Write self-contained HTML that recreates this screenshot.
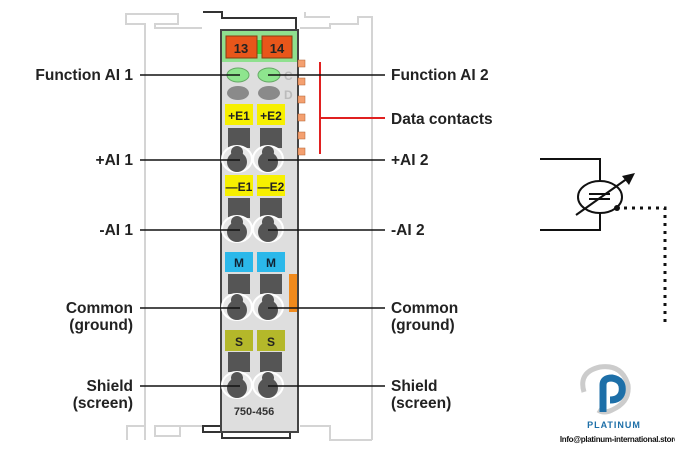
<!DOCTYPE html>
<html><head><meta charset="utf-8"><style>
html,body{margin:0;padding:0;background:#fff;}
svg{display:block;}
text{font-family:"Liberation Sans",sans-serif;font-weight:bold;}
</style></head><body>
<svg width="675" height="450" viewBox="0 0 675 450" xmlns="http://www.w3.org/2000/svg">
<defs>
<g id="term">
  <ellipse cx="0" cy="1" rx="15" ry="13" fill="#e8e8e8" stroke="#fff" stroke-width="2"/>
  <circle cx="0" cy="-6" r="6" fill="#555"/>
  <circle cx="0" cy="4" r="10" fill="#555"/>
</g>
</defs>
<!-- ghost rails -->
<g fill="none" stroke="#d4d4d4" stroke-width="2">
  <path d="M145 440 V24 H126 V14 H178 V24 H155 V28 H202"/>
  <path d="M127 440 V426 H145 M155 426 H180 V436 H155 Z M180 426 H205"/>
  <path d="M372 440 V17 H358 V24 H330 V28 H300 M330 17 H305 V12"/>
  <path d="M300 426 H330 V440 H372"/>
</g>
<!-- module -->
<path d="M203 12 H222 V18 H296 V30 H298 V432 H290 V438 H222 V432 H203 V426 H222" fill="none" stroke="#333" stroke-width="2"/>
<rect x="221" y="30" width="77" height="402" fill="#dedede" stroke="#444" stroke-width="2"/>
<rect x="222" y="31" width="75" height="31" fill="#8fe08f"/>
<rect x="250" y="40" width="18" height="14" fill="#3cd13c"/>
<rect x="226" y="36" width="31" height="22" fill="#e8561a" stroke="#8a3b10"/>
<rect x="262" y="36" width="30" height="22" fill="#e8561a" stroke="#8a3b10"/>
<text x="241" y="53" font-size="13" text-anchor="middle" fill="#222">13</text>
<text x="277" y="53" font-size="13" text-anchor="middle" fill="#222">14</text>
<!-- LEDs -->
<ellipse cx="238" cy="75" rx="11" ry="7" fill="#8ee58e" stroke="#6a6"/>
<ellipse cx="269" cy="75" rx="11" ry="7" fill="#8ee58e" stroke="#6a6"/>
<ellipse cx="238" cy="93" rx="11" ry="7" fill="#8a8a8a"/>
<ellipse cx="269" cy="93" rx="11" ry="7" fill="#8a8a8a"/>
<text x="284" y="80" font-size="12" fill="#bbb" font-weight="normal">C</text>
<text x="284" y="99" font-size="12" fill="#bbb" font-weight="normal">D</text>
<!-- +E -->
<rect x="225" y="104" width="28" height="21" fill="#f7f000"/>
<rect x="257" y="104" width="28" height="21" fill="#f7f000"/>
<text x="239" y="120" font-size="12" text-anchor="middle" fill="#222">+E1</text>
<text x="271" y="120" font-size="12" text-anchor="middle" fill="#222">+E2</text>
<rect x="228" y="128" width="22" height="20" fill="#555"/>
<rect x="260" y="128" width="22" height="20" fill="#555"/>
<use href="#term" x="237" y="158"/><use href="#term" x="268" y="158"/>
<!-- -E -->
<rect x="225" y="175" width="28" height="21" fill="#f7f000"/>
<rect x="257" y="175" width="28" height="21" fill="#f7f000"/>
<text x="239" y="191" font-size="12" text-anchor="middle" fill="#222">—E1</text>
<text x="271" y="191" font-size="12" text-anchor="middle" fill="#222">—E2</text>
<rect x="228" y="198" width="22" height="20" fill="#555"/>
<rect x="260" y="198" width="22" height="20" fill="#555"/>
<use href="#term" x="237" y="228"/><use href="#term" x="268" y="228"/>
<!-- M -->
<rect x="225" y="252" width="28" height="20" fill="#2bb8ea"/>
<rect x="257" y="252" width="28" height="20" fill="#2bb8ea"/>
<text x="239" y="267" font-size="12" text-anchor="middle" fill="#123">M</text>
<text x="271" y="267" font-size="12" text-anchor="middle" fill="#123">M</text>
<rect x="228" y="274" width="22" height="20" fill="#555"/>
<rect x="260" y="274" width="22" height="20" fill="#555"/>
<use href="#term" x="237" y="306"/><use href="#term" x="268" y="306"/>
<rect x="289" y="274" width="8" height="38" fill="#f08a1c"/>
<!-- S -->
<rect x="225" y="330" width="28" height="21" fill="#b4b82a"/>
<rect x="257" y="330" width="28" height="21" fill="#b4b82a"/>
<text x="239" y="346" font-size="12" text-anchor="middle" fill="#222">S</text>
<text x="271" y="346" font-size="12" text-anchor="middle" fill="#222">S</text>
<rect x="228" y="352" width="22" height="20" fill="#555"/>
<rect x="260" y="352" width="22" height="20" fill="#555"/>
<use href="#term" x="237" y="384"/><use href="#term" x="268" y="384"/>
<text x="254" y="415" font-size="11" text-anchor="middle" fill="#333">750-456</text>
<!-- data contacts -->
<g fill="#f4a070" stroke="#b06030" stroke-width="0.5">
<rect x="298" y="60" width="7" height="7"/><rect x="298" y="78" width="7" height="7"/>
<rect x="298" y="96" width="7" height="7"/><rect x="298" y="114" width="7" height="7"/>
<rect x="298" y="132" width="7" height="7"/><rect x="298" y="148" width="7" height="7"/>
</g>
<path d="M320 62 V154 M320 118 H385" stroke="#e02020" stroke-width="2" fill="none"/>
<!-- label lines -->
<g stroke="#111" stroke-width="1.6">
<line x1="140" y1="75" x2="240" y2="75"/><line x1="268" y1="75" x2="385" y2="75"/>
<line x1="140" y1="160" x2="240" y2="160"/><line x1="268" y1="160" x2="385" y2="160"/>
<line x1="140" y1="230" x2="240" y2="230"/><line x1="268" y1="230" x2="385" y2="230"/>
<line x1="140" y1="308" x2="240" y2="308"/><line x1="268" y1="308" x2="385" y2="308"/>
<line x1="140" y1="386" x2="240" y2="386"/><line x1="268" y1="386" x2="385" y2="386"/>
</g>
<g font-size="15.5" fill="#222">
<text x="133" y="80" text-anchor="end">Function AI 1</text>
<text x="133" y="165" text-anchor="end">+AI 1</text>
<text x="133" y="235" text-anchor="end">-AI 1</text>
<text x="133" y="313" text-anchor="end">Common</text>
<text x="133" y="330" text-anchor="end">(ground)</text>
<text x="133" y="391" text-anchor="end">Shield</text>
<text x="133" y="408" text-anchor="end">(screen)</text>
<text x="391" y="80">Function AI 2</text>
<text x="391" y="124">Data contacts</text>
<text x="391" y="165">+AI 2</text>
<text x="391" y="235">-AI 2</text>
<text x="391" y="313">Common</text>
<text x="391" y="330">(ground)</text>
<text x="391" y="391">Shield</text>
<text x="391" y="408">(screen)</text>
</g>
<!-- sensor -->
<g stroke="#111" stroke-width="2" fill="none">
<path d="M540 159 H600 V181"/>
<path d="M540 230 H600 V213"/>
<ellipse cx="600" cy="197" rx="22" ry="16" fill="#fff"/>
<line x1="589" y1="194" x2="610" y2="194"/><line x1="589" y1="199" x2="610" y2="199"/>
<line x1="576" y1="215" x2="628" y2="178"/>
</g>
<path d="M635 173 L622 176 L629 185 Z" fill="#111"/>
<circle cx="617" cy="208" r="3" fill="#111"/>
<path d="M624 208 H665 V322" stroke="#111" stroke-width="3" stroke-dasharray="3 5" fill="none"/>
<!-- logo -->
<path d="M584 392 Q578 372 600 367 Q622 364 628 385 Q630 402 612 410 Q604 414 598 410" fill="none" stroke="#ccc" stroke-width="5"/>
<path d="M603 412 V385 Q603 378 612 378 Q624 380 622 392 Q620 400 610 400" fill="none" stroke="#1d6fa8" stroke-width="7"/>
<text x="614" y="428" font-size="9" text-anchor="middle" fill="#1d6fa8" letter-spacing="1">PLATINUM</text>
<text x="619" y="442" font-size="8" text-anchor="middle" fill="#111" letter-spacing="-0.3">Info@platinum-international.store</text>
</svg>
</body></html>
